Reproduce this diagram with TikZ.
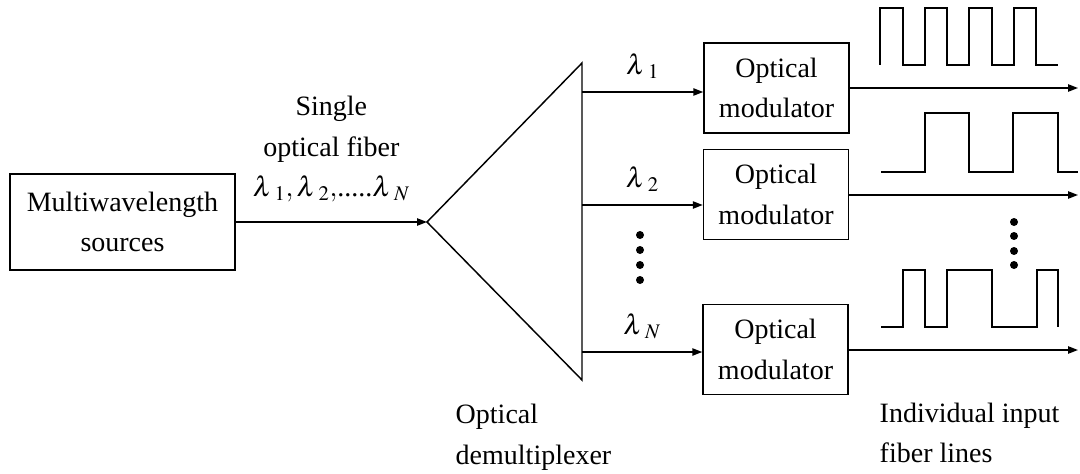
\documentclass[tikz,border=0pt]{standalone}
\usepackage{mathptmx}
\usepackage{fontspec}
\setmainfont{Liberation Serif}
\usetikzlibrary{arrows.meta,positioning}

\newcommand{\wl}[1]{\lambda\,{}_{#1}}

\begin{document}
\begin{tikzpicture}[>={Triangle[length=7.5pt,width=5.5pt]},x=0.75pt,y=-0.75pt,
  font=\fontsize{21}{30.5}\selectfont,line width=1.1pt]
\tikzstyle{block}=[draw,align=center,inner sep=0pt]
\tikzstyle{dot}=[circle,fill,inner sep=0pt,minimum size=6pt]
\tikzstyle{pulse}=[line join=miter]
\useasboundingbox (0,0) rectangle (1080,474);

% source and single fiber
\node[block,minimum width=168.75pt,minimum height=72pt] (src) at (122.5,222) {Multiwavelength\\sources};
\coordinate (dmx) at (427,222);
\draw[->] (src) -- node[above=11pt,align=center] {Single\\optical fiber\\$\wl{1},\wl{2},$.....$\wl{N}$} (dmx);

% demultiplexer
\coordinate (dmxtop) at (582,63);
\coordinate (dmxbot) at (582,380);
\draw[line join=miter] (dmx) -- (dmxtop) -- (dmxbot) -- cycle;
\node[align=left,anchor=west,inner sep=0pt] (dmxlabel) at (455,437.5) {Optical\\demultiplexer};

% modulators
\node[block,minimum width=108.75pt,minimum height=67.5pt] (mod1) at (776.5,88) {Optical\\modulator};
\node[block,minimum width=108.75pt,minimum height=67.5pt] (mod2) at (776,194.5) {Optical\\modulator};
\node[block,minimum width=108.75pt,minimum height=67.5pt] (mod3) at (775.5,349.5) {Optical\\modulator};

\coordinate (in1) at (582,92);
\coordinate (in2) at (582,205);
\coordinate (in3) at (582,352);
\draw[->] (in1) -- node[above=6pt] {$\wl{1}$} (in1 -| mod1.west);
\draw[->] (in2) -- node[above=6pt] {$\wl{2}$} (in2 -| mod2.west);
\draw[->] (in3) -- node[above=6pt] {$\wl{N}$} (in3 -| mod3.west);
\foreach \y in {235,250,265,280}
  \node[dot] (ldot\y) at (640,\y) {};

% output fibers
\coordinate (out1) at (1078,88);
\coordinate (out2) at (1078,195);
\coordinate (out3) at (1078,350);
\draw[->] (mod1.east |- out1) -- (out1);
\draw[->] (mod2.east |- out2) -- (out2);
\draw[->] (mod3.east |- out3) -- (out3);
\foreach \y in {222,236,251,265}
  \node[dot] (rdot\y) at (1014,\y) {};

% data pulses
\draw[pulse] (880,65) |- (903,8) |- (925,65) |- (947,8) |- (969,65) |- (992,8)
  |- (1014,65) |- (1036,8) |- (1058,65);
\draw[pulse] (881,172) -- (925,172) |- (969,113) |- (1013,172) |- (1058,113) |- (1078,172);
\draw[pulse] (881,327) -- (903,327) |- (925,270) |- (947,327) |- (992,270) |- (1037,327)
  |- (1058,270) -- (1058,327);

\node[align=left,anchor=west,inner sep=0pt] (outlabel) at (879,433) {Individual input\\fiber lines};
\end{tikzpicture}
\end{document}
